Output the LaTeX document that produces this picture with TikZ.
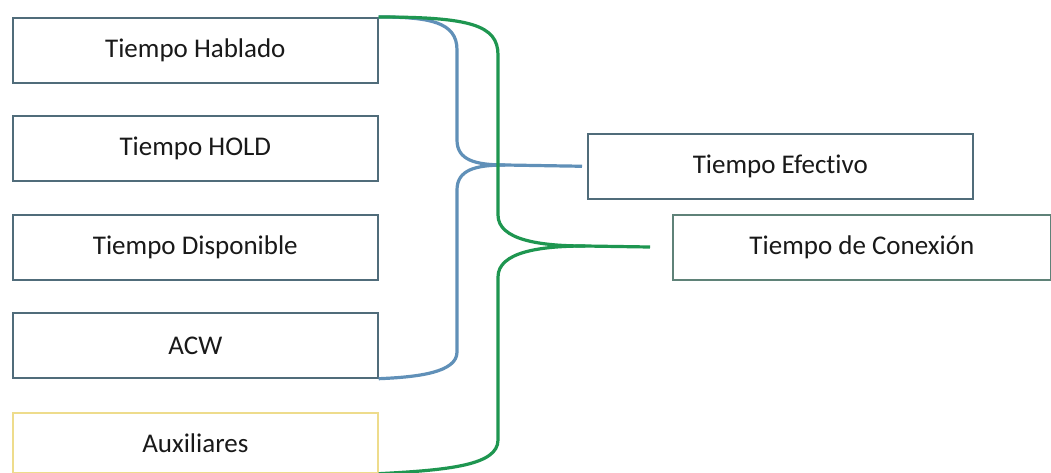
\documentclass[tikz,border=0pt]{standalone}
\usepackage{fontspec}
\setmainfont{Carlito}[Ligatures={NoCommon}]
\definecolor{boxline}{RGB}{80,108,122}
\definecolor{boxlinegreen}{RGB}{95,130,120}
\definecolor{auxline}{RGB}{238,220,140}
\definecolor{bluebr}{RGB}{96,144,184}
\definecolor{greenbr}{RGB}{30,150,80}
\definecolor{txt}{RGB}{25,25,25}
\begin{document}
\begin{tikzpicture}[x=1pt,y=-1pt,
  box/.style={draw=boxline,line width=1.7pt,fill=white,minimum height=65pt,inner sep=0pt,
    font=\fontsize{27}{30}\selectfont,text=txt,anchor=north west},
  leftbox/.style={box,minimum width=365pt},
  bluecon/.style={draw=bluebr,line width=3.2pt},
  greencon/.style={draw=greenbr,line width=3.2pt}]
\useasboundingbox (0,0) rectangle (1051,473);
\fill[white] (0,0) rectangle (1051,473);
\node[leftbox] (h) at (12,17) {Tiempo Hablado};
\node[leftbox] (ho) at (12,115) {Tiempo HOLD};
\node[leftbox] (d) at (12,214) {Tiempo Disponible};
\node[leftbox] (a) at (12,312) {ACW};
\node[leftbox,draw=auxline,minimum height=60pt] (x) at (12,412) {Auxiliares};
\node[box,minimum width=385pt] (e) at (587,133) {Tiempo Efectivo};
\node[box,draw=boxlinegreen,minimum width=378pt] (c) at (672,214) {Tiempo de Conexión};
% blue brace
\coordinate (bt) at (505,165);
\draw[bluecon] (h.north east) .. controls (430,17) and (457,22) .. (457,50) -- (457,140)
  .. controls (457,160) and (475,165) .. (bt);
\draw[bluecon] (bt) .. controls (475,165) and (457,170) .. (457,190) -- (457,352)
  .. controls (457,372) and (420,377) .. (a.south east);
\draw[bluecon,shorten >=5pt] (bt) -- (e.west);
% green brace
\coordinate (gt) at (585,246);
\draw[greencon] (h.north east) .. controls (470,17) and (498,25) .. (498,55) -- (498,215)
  .. controls (498,240) and (540,246) .. (gt);
\draw[greencon] (gt) .. controls (540,246) and (498,252) .. (498,277) -- (498,440)
  .. controls (498,465) and (450,470) .. (x.south east);
\draw[greencon,shorten >=22pt] (gt) -- (c.west);
\end{tikzpicture}
\end{document}
